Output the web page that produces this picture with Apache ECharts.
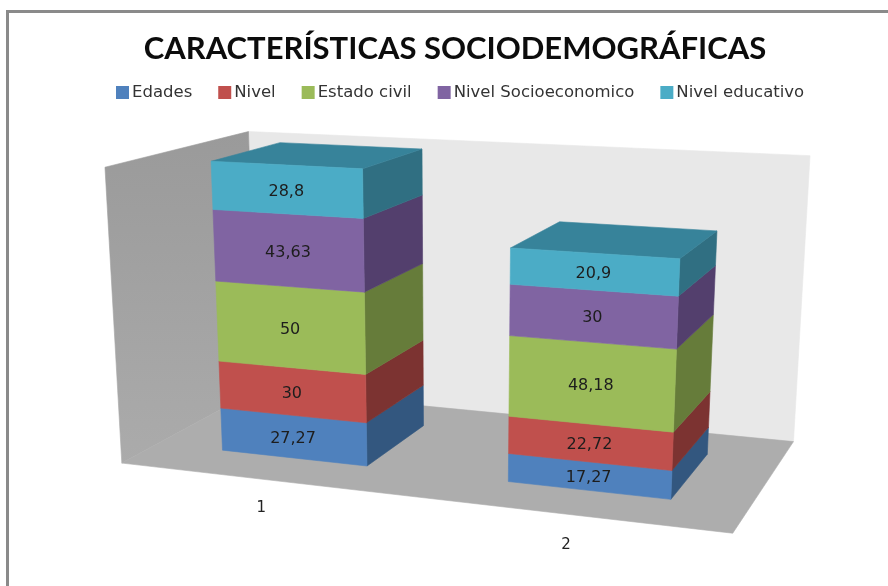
<!DOCTYPE html>
<html><head><meta charset="utf-8"><style>html,body{margin:0;background:#fff}#c{width:888px;height:586px}</style>
<script src="https://cdn.jsdelivr.net/npm/echarts@6/dist/echarts.min.js"></script></head><body><div id="c"></div>
<script>
const categories=['1','2'];
const edades=[27.27,17.27];
const nivel=[30,22.72];
const estadoCivil=[50,48.18];
const nivelSocioeconomico=[43.63,30];
const nivelEducativo=[28.8,20.9];
const seriesNames=['Edades','Nivel','Estado civil','Nivel Socioeconomico','Nivel educativo'];
const seriesValues=[edades,nivel,estadoCivil,nivelSocioeconomico,nivelEducativo];
const frontColors=['#4f81bd','#c0504d','#9bbb59','#8064a2','#4bacc6'];
const sideColors=['#33577f','#7c3331','#667c3a','#533f6d','#306f82'];
const topColor='#37839a';
const AXIS_MAX=180, BAR_FRACTION=0.52, Z_FRONT=-0.48, Z_BACK=1.48;
// camera: perspective matrix from (grid fraction across, grid fraction up, depth) to the page
const CAM=[507.598,-21.1264,85.7406,158.612,8.40863,-293.016,-6.87689,443.16,-0.11107,-0.04649,0.07473];
function project(a,b,z){const w=CAM[8]*a+CAM[9]*b+CAM[10]*z+1;
  return [(CAM[0]*a+CAM[1]*b+CAM[2]*z+CAM[3])/w,(CAM[4]*a+CAM[5]*b+CAM[6]*z+CAM[7])/w];}
function frac(cs,p){return [(p[0]-cs.x)/cs.width,(cs.y+cs.height-p[1])/cs.height];}
function poly(points,fill){return {type:'polygon',shape:{points},style:{fill,stroke:fill,lineWidth:0.6},silent:true};}

function renderScene(params,api){
  const cs=params.coordSys;
  const o=frac(cs,api.coord([0,0])), t=frac(cs,api.coord([0,AXIS_MAX]));
  const b0=o[1],b1=t[1],a0=0,a1=1;
  return {type:'group',children:[
    poly([project(a0,b1,Z_BACK),project(a1,b1,Z_BACK),project(a1,b0,Z_BACK),project(a0,b0,Z_BACK)],'#e8e8e8'),
    poly([project(a0,b1,Z_FRONT),project(a0,b1,Z_BACK),project(a0,b0,Z_BACK),project(a0,b0,Z_FRONT)],
      new echarts.graphic.LinearGradient(0,0,0,1,[{offset:0,color:'#9a9a9a'},{offset:1,color:'#ababab'}])),
    poly([project(a0,b0,Z_FRONT),project(a1,b0,Z_FRONT),project(a1,b0,Z_BACK),project(a0,b0,Z_BACK)],'#adadad')
  ]};
}
function barRenderer(si){return function(params,api){
  const cs=params.coordSys, cat=api.value(0), start=api.value(1), end=api.value(2);
  const half=api.size([1,0])[0]*BAR_FRACTION/2;
  const p0=api.coord([cat,start]), p1=api.coord([cat,end]);
  const l=frac(cs,[p0[0]-half,p0[1]]), r=frac(cs,[p0[0]+half,p1[1]]);
  const a0=l[0],a1=r[0],b0=l[1],b1=r[1];
  const kids=[];
  kids.push(poly([project(a1,b1,0),project(a1,b1,1),project(a1,b0,1),project(a1,b0,0)],sideColors[si]));
  if(si===seriesValues.length-1) kids.push(poly([project(a0,b1,0),project(a0,b1,1),project(a1,b1,1),project(a1,b1,0)],topColor));
  kids.push(poly([project(a0,b1,0),project(a1,b1,0),project(a1,b0,0),project(a0,b0,0)],frontColors[si]));
  const c=project((a0+a1)/2,(b0+b1)/2,0);
  kids.push({type:'text',silent:true,style:{x:c[0],y:c[1]+2,text:String(api.value(3)).replace('.',','),align:'center',verticalAlign:'middle',fill:'#1d1d1d',font:'16px "DejaVu Sans"'}});
  return {type:'group',children:kids};
};}
function renderCategory(params,api){
  const cs=params.coordSys, cat=api.value(0);
  const f=frac(cs,api.coord([cat,0]));
  const q=project(0.954*f[0]+0.0725,f[1],-0.97);
  return {type:'text',silent:true,style:{x:q[0],y:q[1]+1.5,text:categories[cat],align:'center',verticalAlign:'middle',fill:'#222',font:'15px "DejaVu Sans"'}};
}
const barSeries=seriesNames.map((name,si)=>{
  const data=categories.map((_,ci)=>{
    let s=0;for(let k=0;k<si;k++)s+=seriesValues[k][ci];
    return [ci,s,s+seriesValues[si][ci],seriesValues[si][ci]];
  });
  return {name,type:'custom',renderItem:barRenderer(si),data,z:3,clip:false,silent:true,itemStyle:{color:frontColors[si]},encode:{x:0,y:[1,2]}};
});
const option={
  animation:false,
  backgroundColor:'#fff',
  title:{text:'CARACTERÍSTICAS SOCIODEMOGRÁFICAS',left:450,top:28,textAlign:'center',
    textStyle:{fontFamily:'Lato',fontWeight:'bold',fontSize:31,color:'#0c0c0c'}},
  legend:{left:111,top:79,itemWidth:13,itemHeight:13,itemGap:26,icon:'rect',data:seriesNames,selectedMode:false,
    textStyle:{fontFamily:'DejaVu Sans',fontSize:16.5,color:'#333',padding:[0,0,0,-2]}},
  grid:{left:100,top:100,width:600,height:400},
  xAxis:{type:'category',data:categories,show:false},
  yAxis:{type:'value',min:0,max:AXIS_MAX,interval:20,show:false},
  graphic:[
    {type:'line',shape:{x1:7,y1:11.5,x2:888,y2:11.5},style:{stroke:'#8a8a8a',lineWidth:3}},
    {type:'line',shape:{x1:7.5,y1:10,x2:7.5,y2:586},style:{stroke:'#8a8a8a',lineWidth:3}}
  ],
  series:[
    {type:'custom',renderItem:renderScene,data:[[0]],z:1,clip:false,silent:true,legendHoverLink:false},
    ...barSeries,
    {type:'custom',renderItem:renderCategory,data:categories.map((_,i)=>[i]),z:2,clip:false,silent:true}
  ]
};
echarts.init(document.getElementById('c'),null,{renderer:'canvas'}).setOption(option);
</script></body></html>
